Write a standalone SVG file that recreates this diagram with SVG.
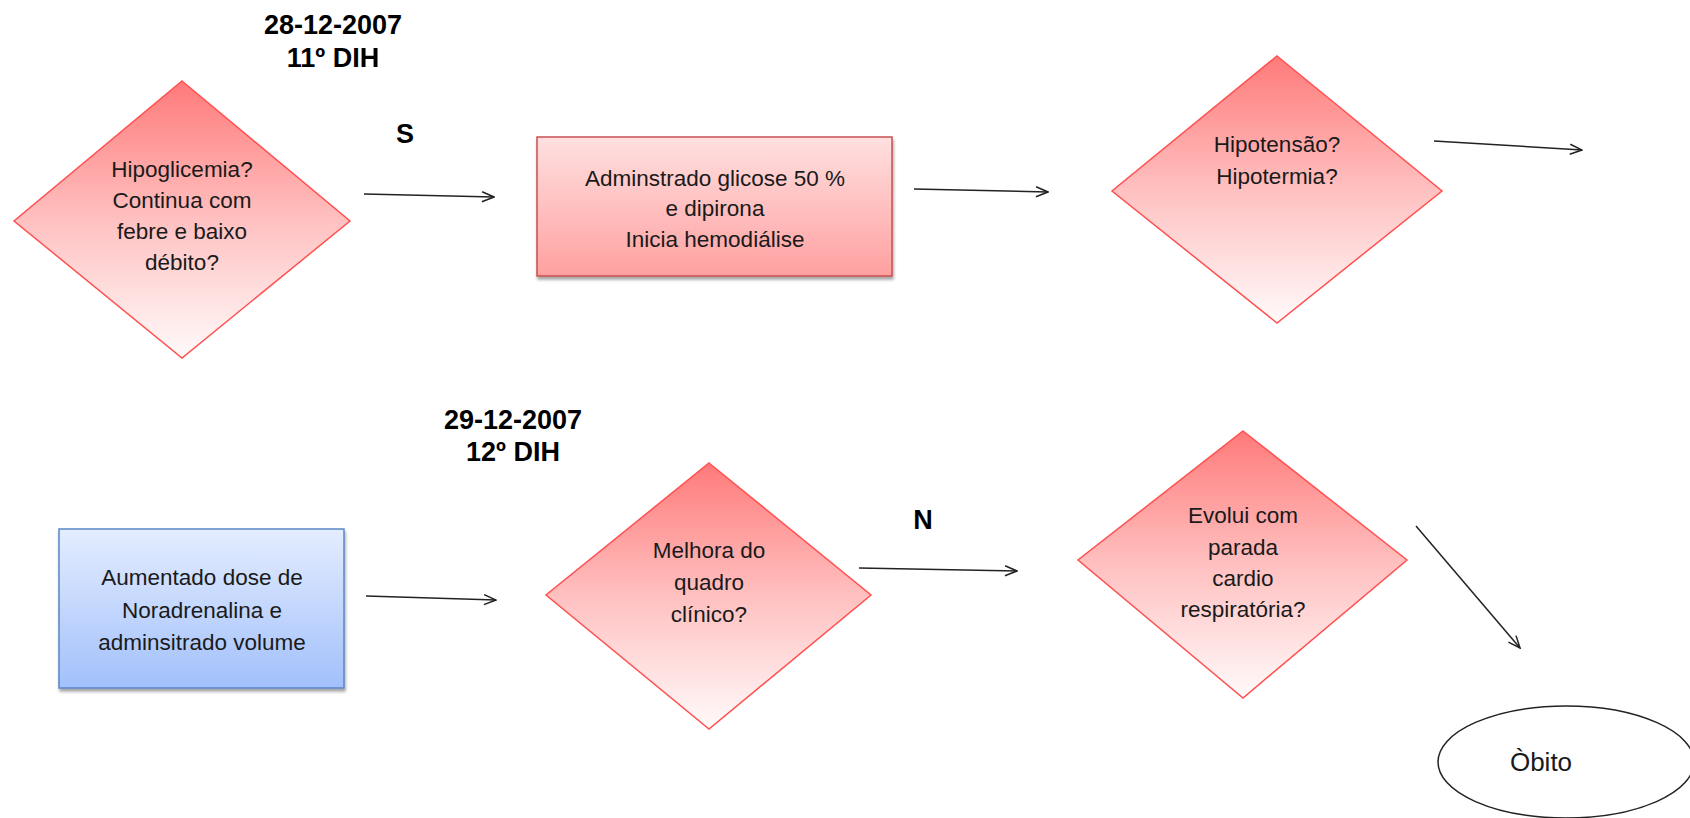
<svg xmlns="http://www.w3.org/2000/svg" width="1690" height="818" viewBox="0 0 1690 818">
  <defs>
    <linearGradient id="gDiamond" x1="0" y1="0" x2="0" y2="1">
      <stop offset="0" stop-color="#ff7a7a"/>
      <stop offset="0.5" stop-color="#ffc0c0"/>
      <stop offset="1" stop-color="#fffafa"/>
    </linearGradient>
    <linearGradient id="gRed" x1="0" y1="0" x2="0" y2="1">
      <stop offset="0" stop-color="#ffe0e0"/>
      <stop offset="1" stop-color="#ffa0a0"/>
    </linearGradient>
    <linearGradient id="gBlue" x1="0" y1="0" x2="0" y2="1">
      <stop offset="0" stop-color="#e4edff"/>
      <stop offset="1" stop-color="#a2c0fb"/>
    </linearGradient>
    <filter id="shadow" x="-10%" y="-10%" width="120%" height="130%">
      <feDropShadow dx="1" dy="3" stdDeviation="1.5" flood-color="#000" flood-opacity="0.35"/>
    </filter>
    <marker id="arrow" viewBox="0 0 14 12" refX="13" refY="6" markerWidth="14" markerHeight="12" markerUnits="userSpaceOnUse" orient="auto">
      <path d="M1,1 L13,6 L1,11" fill="none" stroke="#222" stroke-width="1.5"/>
    </marker>
    <style>
      .diamond { fill: url(#gDiamond); stroke: #ff5050; stroke-width: 1.5; }
      .boxRed { fill: url(#gRed); stroke: #c85050; stroke-width: 1.5; filter: url(#shadow); }
      .boxBlue { fill: url(#gBlue); stroke: #5a86c8; stroke-width: 1.5; filter: url(#shadow); }
      .label { font-family: "Liberation Sans", Arial, sans-serif; font-size: 22.5px; fill: #1a1a1a; text-anchor: middle; }
      .head { font-family: "Liberation Sans", Arial, sans-serif; font-size: 27px; font-weight: bold; fill: #000; text-anchor: middle; }
      .conn { stroke: #222; stroke-width: 1.5; fill: none; marker-end: url(#arrow); }
    </style>
  </defs>

  <rect width="1690" height="818" fill="#fff"/>

  <!-- day headings and branch letters -->
  <g id="headings">
    <text class="head" x="333" y="34">28-12-2007</text>
    <text class="head" x="333" y="67">11º DIH</text>
    <text class="head" x="405" y="143">S</text>
    <text class="head" x="513" y="429">29-12-2007</text>
    <text class="head" x="513" y="461">12º DIH</text>
    <text class="head" x="923" y="529">N</text>
  </g>

  <g id="connectors">
    <line class="conn" x1="364" y1="194" x2="494" y2="197"/>
    <line class="conn" x1="914" y1="189" x2="1048" y2="192"/>
    <line class="conn" x1="1434" y1="141" x2="1582" y2="150"/>
    <line class="conn" x1="366" y1="596" x2="496" y2="600"/>
    <line class="conn" x1="859" y1="568" x2="1017" y2="571"/>
    <line class="conn" x1="1416" y1="526" x2="1520" y2="648"/>
  </g>

  <g id="hipoglicemia">
    <polygon class="diamond" points="182,81 350,221 182,358 14,221"/>
    <text class="label" x="182" y="177">Hipoglicemia?</text>
    <text class="label" x="182" y="208">Continua com</text>
    <text class="label" x="182" y="239">febre e baixo</text>
    <text class="label" x="182" y="270">débito?</text>
  </g>

  <g id="glicose">
    <rect class="boxRed" x="537" y="137" width="355" height="139"/>
    <text class="label" x="715" y="186">Adminstrado glicose 50 %</text>
    <text class="label" x="715" y="216">e dipirona</text>
    <text class="label" x="715" y="247">Inicia hemodiálise</text>
  </g>

  <g id="hipotensao">
    <polygon class="diamond" points="1277,56 1442,191 1277,323 1112,191"/>
    <text class="label" x="1277" y="152">Hipotensão?</text>
    <text class="label" x="1277" y="184">Hipotermia?</text>
  </g>

  <g id="noradrenalina">
    <rect class="boxBlue" x="59" y="529" width="285" height="159"/>
    <text class="label" x="202" y="585">Aumentado dose de</text>
    <text class="label" x="202" y="618">Noradrenalina e</text>
    <text class="label" x="202" y="650">adminsitrado volume</text>
  </g>

  <g id="melhora">
    <polygon class="diamond" points="709,463 871,595 709,729 546,595"/>
    <text class="label" x="709" y="558">Melhora do</text>
    <text class="label" x="709" y="590">quadro</text>
    <text class="label" x="709" y="622">clínico?</text>
  </g>

  <g id="parada">
    <polygon class="diamond" points="1243,431 1407,560 1243,698 1078,560"/>
    <text class="label" x="1243" y="523">Evolui com</text>
    <text class="label" x="1243" y="555">parada</text>
    <text class="label" x="1243" y="586">cardio</text>
    <text class="label" x="1243" y="617">respiratória?</text>
  </g>

  <g id="obito">
    <ellipse cx="1566" cy="762" rx="128" ry="56" fill="#fff" stroke="#222" stroke-width="1.5"/>
    <text class="label" x="1541" y="771" style="font-size:26px">Òbito</text>
  </g>
</svg>
